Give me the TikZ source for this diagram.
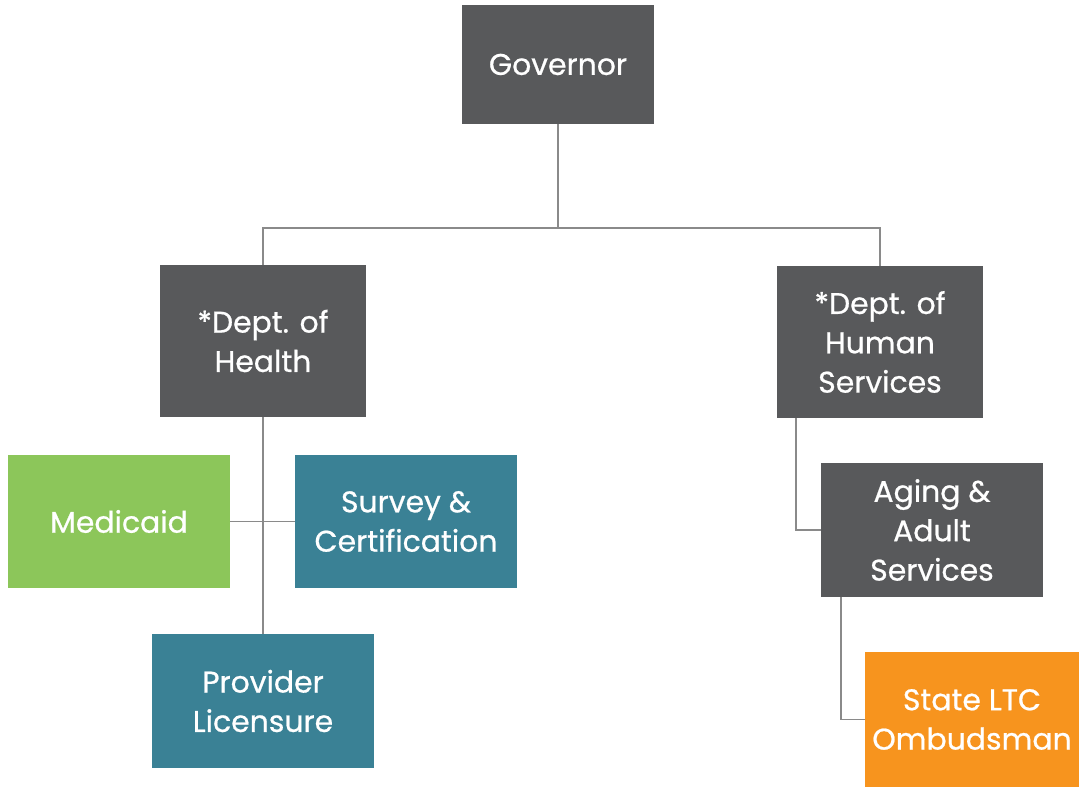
\documentclass[tikz,border=0pt]{standalone}
\usepackage{fontspec}
\setmainfont{Poppins}
\newfontfamily\boxfont{Poppins}[RawFeature={embolden=0.7}]
\usetikzlibrary{positioning}

\definecolor{boxgrey}{HTML}{58595B}
\definecolor{boxgreen}{HTML}{8CC65A}
\definecolor{boxteal}{HTML}{3A8195}
\definecolor{boxorange}{HTML}{F7941E}
\definecolor{linkgrey}{HTML}{8A8A8A}

\begin{document}
\begin{tikzpicture}
[
  x=0.02cm, y=-0.02cm,
  box/.style={rectangle, text=white, align=center, inner sep=0pt,
    font=\fontsize{17}{22.4}\boxfont},
  office/.style={box, fill=boxgrey},
  program/.style={box, fill=boxteal},
  link/.style={draw=linkgrey, line width=0.9pt}
]
 \useasboundingbox (0,0) rectangle (1079,787);

 \node[office,minimum width=3.84cm,minimum height=2.38cm] (gov) at (558,64.5) {Governor};
 \node[office,minimum width=4.12cm,minimum height=3.04cm] (health) at (263,341) {*Dept. of\\Health};
 \node[office,minimum width=4.12cm,minimum height=3.04cm] (dhs) at (880,342) {*Dept. of\\Human\\Services};
 \node[box,fill=boxgreen,minimum width=4.44cm,minimum height=2.66cm] (medicaid) at (119,521.5) {Medicaid};
 \node[program,minimum width=4.44cm,minimum height=2.66cm] (survey) at (406,521.5) {Survey \&\\Certification};
 \node[program,minimum width=4.44cm,minimum height=2.68cm] (provider) at (263,701) {Provider\\Licensure};
 \node[office,minimum width=4.44cm,minimum height=2.68cm] (aging) at (932,530) {Aging \&\\Adult\\Services};
 \node[box,fill=boxorange,minimum width=4.28cm,minimum height=2.7cm] (ltc) at (972,719.5) {State LTC\\Ombudsman};

 % branch points
 \coordinate (split) at (558,228);
 \coordinate (dhsleg) at (796,418);
 \coordinate (agingleg) at (841,597);

 \draw[link] (gov) -- (split);
 \draw[link] (health.north) |- (split) -| (dhs.north);
 \draw[link] (health) -- (provider);
 \draw[link] (medicaid) -- (survey);
 \draw[link] (dhsleg) |- (aging.west);
 \draw[link] (agingleg) |- (ltc.west);
\end{tikzpicture}
\end{document}
